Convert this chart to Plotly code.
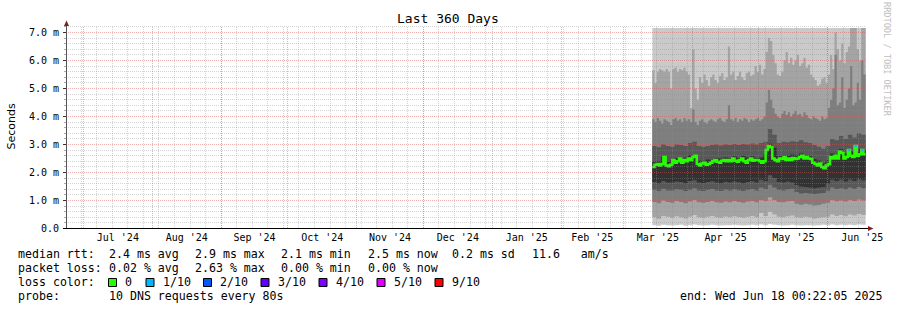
import math
import plotly.graph_objects as go
import pandas as pd

# ---------------- data ----------------
TITLE = "Last 360 Days"
Y_LABEL = "Seconds"
X_START = "2024-06-23 04:00"
X_END = "2025-06-18 04:00"
y_tick_vals = [0, 1, 2, 3, 4, 5, 6, 7]
y_tick_text = ["0.0", "1.0 m", "2.0 m", "3.0 m", "4.0 m", "5.0 m", "6.0 m", "7.0 m"]

# daily samples from 2025-03-14 (96 days) and 2-day samples (48 bins)
day_edges = pd.date_range("2025-03-14", periods=97, freq="D")
bin_edges = pd.date_range("2025-03-14", periods=49, freq="2D")

# daily series
median = [2.20, 2.28, 2.30, 2.25, 2.30, 2.55, 2.25, 2.22, 2.28, 2.45, 2.35, 2.40,
          2.50, 2.35, 2.45, 2.40, 2.50, 2.45, 2.55, 2.60, 2.30, 2.25, 2.32, 2.35,
          2.28, 2.30, 2.35, 2.40, 2.45, 2.38, 2.35, 2.42, 2.45, 2.40, 2.45, 2.40,
          2.50, 2.42, 2.38, 2.45, 2.50, 2.40, 2.35, 2.45, 2.50, 2.42, 2.45, 2.45,
          2.40, 2.35, 2.40, 2.80, 2.95, 2.90, 2.50, 2.45, 2.40, 2.50, 2.48, 2.55,
          2.45, 2.50, 2.45, 2.52, 2.48, 2.50, 2.55, 2.60, 2.50, 2.55, 2.50, 2.48,
          2.35, 2.30, 2.25, 2.32, 2.20, 2.15, 2.25, 2.30, 2.55, 2.50, 2.60, 2.50,
          2.75, 2.70, 2.50, 2.55, 2.80, 2.60, 2.55, 2.95, 2.60, 2.65, 2.80, 2.65]
loss = [0] * 88 + [1, 0, 0, 1, 0, 0, 1, 0]

p8 = [3.90, 3.80, 3.95, 3.85, 3.75, 3.90, 3.85, 3.80, 3.70, 3.90, 3.95, 3.85,
      3.90, 3.80, 3.95, 3.85, 3.90, 3.80, 4.25, 3.80, 3.70, 3.85, 3.90, 3.80,
      3.75, 3.85, 3.90, 3.85, 3.80, 3.90, 3.95, 3.85, 3.80, 3.90, 4.40, 3.90,
      3.85, 3.95, 3.80, 3.90, 3.85, 3.95, 3.90, 3.80, 3.90, 3.85, 3.90, 3.95,
      3.85, 3.90, 4.00, 4.50, 4.95, 4.60, 4.30, 4.10, 4.00, 3.95, 4.10, 4.20,
      4.05, 4.15, 4.00, 4.10, 4.20, 4.05, 4.10, 4.00, 4.15, 4.05, 3.95, 3.90,
      4.00, 3.95, 3.90, 3.85, 4.00, 3.90, 3.95, 4.30, 4.60, 5.00, 6.20, 4.40,
      4.50, 5.40, 4.30, 4.60, 5.00, 5.80, 4.40, 4.50, 5.20, 4.60, 6.00, 5.50]
p9 = [5.65, 5.20, 5.60, 5.70, 5.65, 5.60, 5.70, 5.60, 5.00, 5.70, 5.75, 5.60,
      5.70, 5.65, 5.75, 5.60, 5.50, 4.30, 6.40, 5.00, 4.60, 5.40, 5.20, 5.50,
      5.30, 5.10, 5.40, 5.50, 5.30, 5.20, 5.45, 5.55, 5.30, 5.40, 6.50, 5.50,
      5.60, 5.30, 5.45, 5.60, 5.40, 5.30, 5.55, 5.60, 5.45, 5.50, 5.80, 5.60,
      5.85, 5.50, 5.70, 6.30, 6.80, 6.70, 6.20, 5.90, 5.50, 5.45, 5.60, 6.00,
      6.30, 5.90, 6.10, 5.85, 6.00, 6.20, 5.80, 5.90, 6.10, 5.75, 5.85, 5.50,
      5.40, 5.30, 5.10, 5.15, 5.35, 5.40, 5.20, 5.50, 6.20, 5.70, 7.00, 6.40,
      6.00, 6.60, 5.90, 6.30, 6.50, 7.16, 7.16, 7.16, 6.40, 6.00, 7.16, 7.16]

# 2-day series
p1 = [0.12, 0.10, 0.13, 0.12, 0.11, 0.12, 0.13, 0.10, 0.12, 0.14, 0.12, 0.11,
      0.12, 0.13, 0.12, 0.11, 0.12, 0.12, 0.13, 0.12, 0.11, 0.12, 0.13, 0.12,
      0.14, 0.12, 0.15, 0.13, 0.12, 0.11, 0.12, 0.13, 0.12, 0.11, 0.12, 0.12,
      0.11, 0.12, 0.13, 0.12, 0.14, 0.12, 0.13, 0.12, 0.13, 0.12, 0.14, 0.13]
p2 = [0.40, 0.35, 0.45, 0.42, 0.38, 0.44, 0.40, 0.36, 0.42, 0.48, 0.40, 0.38,
      0.42, 0.45, 0.40, 0.38, 0.43, 0.40, 0.44, 0.41, 0.38, 0.42, 0.45, 0.40,
      0.55, 0.45, 0.60, 0.50, 0.42, 0.40, 0.44, 0.46, 0.40, 0.38, 0.42, 0.40,
      0.36, 0.38, 0.40, 0.42, 0.50, 0.45, 0.48, 0.44, 0.50, 0.46, 0.52, 0.48]
p3 = [0.95, 0.90, 1.00, 0.95, 0.92, 0.98, 0.95, 0.90, 0.96, 1.02, 0.94, 0.92,
      0.95, 0.98, 0.94, 0.92, 0.96, 0.94, 0.98, 0.95, 0.92, 0.96, 0.98, 0.94,
      1.02, 0.98, 1.12, 1.02, 0.95, 0.94, 0.97, 0.98, 0.88, 0.85, 0.88, 0.86,
      0.82, 0.84, 0.88, 0.92, 1.02, 0.97, 1.00, 0.96, 1.02, 0.98, 1.04, 1.00]
p4 = [1.38, 1.34, 1.42, 1.36, 1.36, 1.40, 1.38, 1.34, 1.38, 1.44, 1.36, 1.34,
      1.38, 1.41, 1.36, 1.34, 1.39, 1.36, 1.40, 1.37, 1.34, 1.38, 1.41, 1.36,
      1.46, 1.41, 1.56, 1.46, 1.38, 1.36, 1.40, 1.42, 1.30, 1.25, 1.27, 1.25,
      1.23, 1.25, 1.27, 1.35, 1.46, 1.41, 1.44, 1.40, 1.46, 1.42, 1.48, 1.44]
p5 = [1.66, 1.62, 1.70, 1.64, 1.64, 1.68, 1.66, 1.62, 1.70, 1.72, 1.64, 1.62,
      1.66, 1.69, 1.64, 1.62, 1.67, 1.64, 1.68, 1.65, 1.62, 1.66, 1.69, 1.64,
      1.74, 1.69, 1.90, 1.80, 1.66, 1.64, 1.68, 1.64, 1.55, 1.50, 1.48, 1.46,
      1.44, 1.46, 1.48, 1.60, 1.74, 1.70, 1.75, 1.68, 1.75, 1.70, 1.76, 1.72]
p6 = [2.38, 2.40, 2.56, 2.38, 2.44, 2.52, 2.50, 2.54, 2.62, 2.62, 2.42, 2.40,
      2.46, 2.44, 2.52, 2.50, 2.54, 2.52, 2.58, 2.52, 2.60, 2.54, 2.58, 2.52,
      2.54, 2.64, 3.03, 2.88, 2.58, 2.62, 2.60, 2.64, 2.62, 2.68, 2.60, 2.58,
      2.48, 2.43, 2.32, 2.43, 2.68, 2.64, 2.84, 2.68, 2.78, 2.74, 2.84, 2.82]
p7 = [2.95, 2.90, 3.00, 2.95, 2.92, 3.00, 2.98, 2.95, 3.05, 3.10, 2.95, 2.92,
      2.95, 2.98, 3.00, 2.96, 3.00, 2.98, 3.02, 2.98, 3.02, 3.00, 3.04, 3.00,
      3.05, 3.10, 3.55, 3.35, 3.05, 3.10, 3.08, 3.12, 3.10, 3.15, 3.08, 3.05,
      2.98, 2.92, 2.85, 2.95, 3.20, 3.15, 3.30, 3.20, 3.35, 3.25, 3.40, 3.35]
p10 = [7.16] * 48

# ---------------- layout constants ----------------
W, H = 897, 310
PL, PT, PW, PH = 66, 26, 800, 203
PX_PER_UNIT = 28.0
Y0_PX = PT + PH - 0.5
Y_RANGE = [-0.5 / PX_PER_UNIT, (PH - 0.5) / PX_PER_UNIT]


def px(x):
    return (x - PL) / PW


def py(y):
    return (PT + PH - y) / PH


SMOKE = ["#cacaca", "#a4a4a4", "#7e7e7e", "#585858", "#323232"]
LOSS_COLORS = {0: "#26ff00", 1: "#00b8ff", 2: "#0059ff", 3: "#5e00ff",
               4: "#7e00ff", 5: "#dd00ff", 9: "#ff0000"}
GRID = "rgba(143,143,143,0.38)"
MGRID = "rgba(222,79,79,0.45)"
MONO = "DejaVu Sans Mono"

t0, t1 = pd.Timestamp(X_START), pd.Timestamp(X_END)


def date_px(d):
    return PL + (pd.Timestamp(d) - t0) / (t1 - t0) * PW


def snap(p):
    return math.floor(p) + 0.5


def ext(v):
    return list(v) + [v[-1]]


def xs_for(v):
    return list(day_edges) if len(v) == 96 else list(bin_edges)


pings = [p1, p2, p3, p4, p5, p6, p7, p8, p9, p10]
fig = go.Figure()
for i in range(5):
    lo, hi = pings[i], pings[9 - i]
    fig.add_trace(go.Scatter(x=xs_for(lo), y=ext(lo), mode="lines",
                             line=dict(width=0, shape="hv"), showlegend=False,
                             hoverinfo="skip"))
    fig.add_trace(go.Scatter(x=xs_for(hi), y=ext(hi), mode="lines", fill="tonexty",
                             fillcolor=SMOKE[i], line=dict(width=0, shape="hv"),
                             showlegend=False, hoverinfo="skip"))

fig.add_trace(go.Scatter(x=list(day_edges), y=ext(median), mode="lines",
                         line=dict(color=LOSS_COLORS[0], width=2.5, shape="hv"),
                         showlegend=False, hoverinfo="skip"))
for lv in sorted(set(loss)):
    if lv == 0:
        continue
    sx, sy = [], []
    for k, l in enumerate(loss):
        if l == lv:
            sx += [day_edges[k], day_edges[k + 1], None]
            sy += [median[k], median[k], None]
    fig.add_trace(go.Scatter(x=sx, y=sy, mode="lines",
                             line=dict(color=LOSS_COLORS[lv], width=2.5),
                             showlegend=False, hoverinfo="skip"))

shapes = []
GRID_TOP = py(26)
GRID_BOT = py(228)


def vline(xp, color):
    xsn = px(snap(xp))
    shapes.append(dict(type="line", xref="paper", yref="paper", x0=xsn, x1=xsn,
                       y0=GRID_BOT, y1=GRID_TOP,
                       line=dict(color=color, width=1, dash="1px,1px"), layer="above"))


for d in pd.date_range("2024-06-30", X_END, freq="7D"):
    vline(date_px(d), GRID)
for d in pd.date_range("2024-07-01", X_END, freq="MS"):
    vline(date_px(d), MGRID)

for j in range(1, 37):
    v = j * 0.2
    major = j % 5 == 0
    yp = py(snap(Y0_PX - v * PX_PER_UNIT))
    shapes.append(dict(type="line", xref="paper", yref="paper", x0=0, x1=1, y0=yp, y1=yp,
                       line=dict(color=MGRID if major else GRID, width=1, dash="1px,1px"),
                       layer="above"))
    shapes.append(dict(type="line", xref="paper", yref="paper", x0=px(PL - (3 if major else 2)),
                       x1=px(PL), y0=yp, y1=yp,
                       line=dict(color="#333333" if major else "#aaaaaa", width=1),
                       layer="above"))
# axes
shapes.append(dict(type="line", xref="paper", yref="paper", x0=px(66.5), x1=px(66.5),
                   y0=py(229), y1=py(24), line=dict(color="#555555", width=1), layer="above"))
shapes.append(dict(type="line", xref="paper", yref="paper", x0=px(63), x1=px(868),
                   y0=py(228.5), y1=py(228.5), line=dict(color="#000000", width=1), layer="above"))
shapes.append(dict(type="path", xref="paper", yref="paper",
                   path=f"M {px(64)} {py(26)} L {px(69)} {py(26)} L {px(66.5)} {py(20.5)} Z",
                   fillcolor="#801f1f", line=dict(width=0), layer="above"))
shapes.append(dict(type="path", xref="paper", yref="paper",
                   path=f"M {px(868)} {py(226)} L {px(868)} {py(231)} L {px(873.5)} {py(228.5)} Z",
                   fillcolor="#801f1f", line=dict(width=0), layer="above"))

annotations = []


def txt(x, y, s, size=11.6, font=MONO, color="#000000", anchor="left", angle=0):
    annotations.append(dict(x=px(x), y=py(y), xref="paper", yref="paper", text=s,
                            showarrow=False, xanchor=anchor, yanchor="middle",
                            textangle=angle, font=dict(family=font, size=size, color=color)))


NB = "\u00a0"
txt(448, 19, TITLE, size=13, anchor="center")
txt(11, 126.5, Y_LABEL, size=11, font="DejaVu Sans", anchor="center", angle=-90)
txt(887, 59, "RRDTOOL / TOBI OETIKER", size=8.6, color="#c0c0c0", anchor="center", angle=90)

rows_y = [254, 268, 282, 296]
leg_median = ["2.4 ms avg", "2.9 ms max", "2.1 ms min", "2.5 ms now", "0.2 ms sd"]
leg_loss = ["0.02 % avg", "2.63 % max", "0.00 % min", "0.00 % now"]
col_x = [107.3, 193.3, 279.3, 365.7, 450]
txt(16, rows_y[0], "median rtt:")
for s, x in zip(leg_median, col_x):
    txt(x, rows_y[0], s.replace(" ", NB))
txt(530, rows_y[0], "11.6" + NB * 3 + "am/s")
txt(16, rows_y[1], "packet loss:")
for s, x in zip(leg_loss, col_x):
    txt(x, rows_y[1], s.replace(" ", NB))
txt(16, rows_y[2], "loss color:")
loss_labels = [(0, "0"), (1, "1/10"), (2, "2/10"), (3, "3/10"), (4, "4/10"), (5, "5/10"), (9, "9/10")]
box_x = [108.5, 146, 203.5, 261, 319, 377, 435]
for (lv, lab), bx in zip(loss_labels, box_x):
    shapes.append(dict(type="rect", xref="paper", yref="paper", x0=px(bx), x1=px(bx + 8),
                       y0=py(rows_y[2] + 4.5), y1=py(rows_y[2] - 3.5),
                       fillcolor=LOSS_COLORS[lv], line=dict(color="#000000", width=1)))
    txt(bx + 14.7, rows_y[2], lab)
txt(16, rows_y[3], "probe:")
txt(107.3, rows_y[3], "10 DNS requests every 80s".replace(" ", NB))
txt(678.3, rows_y[3], "end: Wed Jun 18 00:22:05 2025".replace(" ", NB))

fig.update_layout(
    width=W, height=H, margin=dict(l=PL, r=W - PL - PW, t=PT, b=H - PT - PH),
    paper_bgcolor="#ffffff", plot_bgcolor="#ffffff", showlegend=False,
    shapes=shapes, annotations=annotations,
    xaxis=dict(type="date", range=[X_START, X_END], showgrid=False, zeroline=False,
               showline=False, dtick="M1", tick0="2024-07-01", ticklabelmode="period",
               tickformat="%b '%y", ticks="", ticklabelstandoff=1,
               tickfont=dict(family=MONO, size=10, color="#000000")),
    yaxis=dict(range=Y_RANGE, showgrid=False, zeroline=False, showline=False,
               tickvals=y_tick_vals, ticktext=y_tick_text, ticks="",
               ticklabelstandoff=6,
               tickfont=dict(family=MONO, size=10, color="#000000")),
)
fig.write_html("out.html")
